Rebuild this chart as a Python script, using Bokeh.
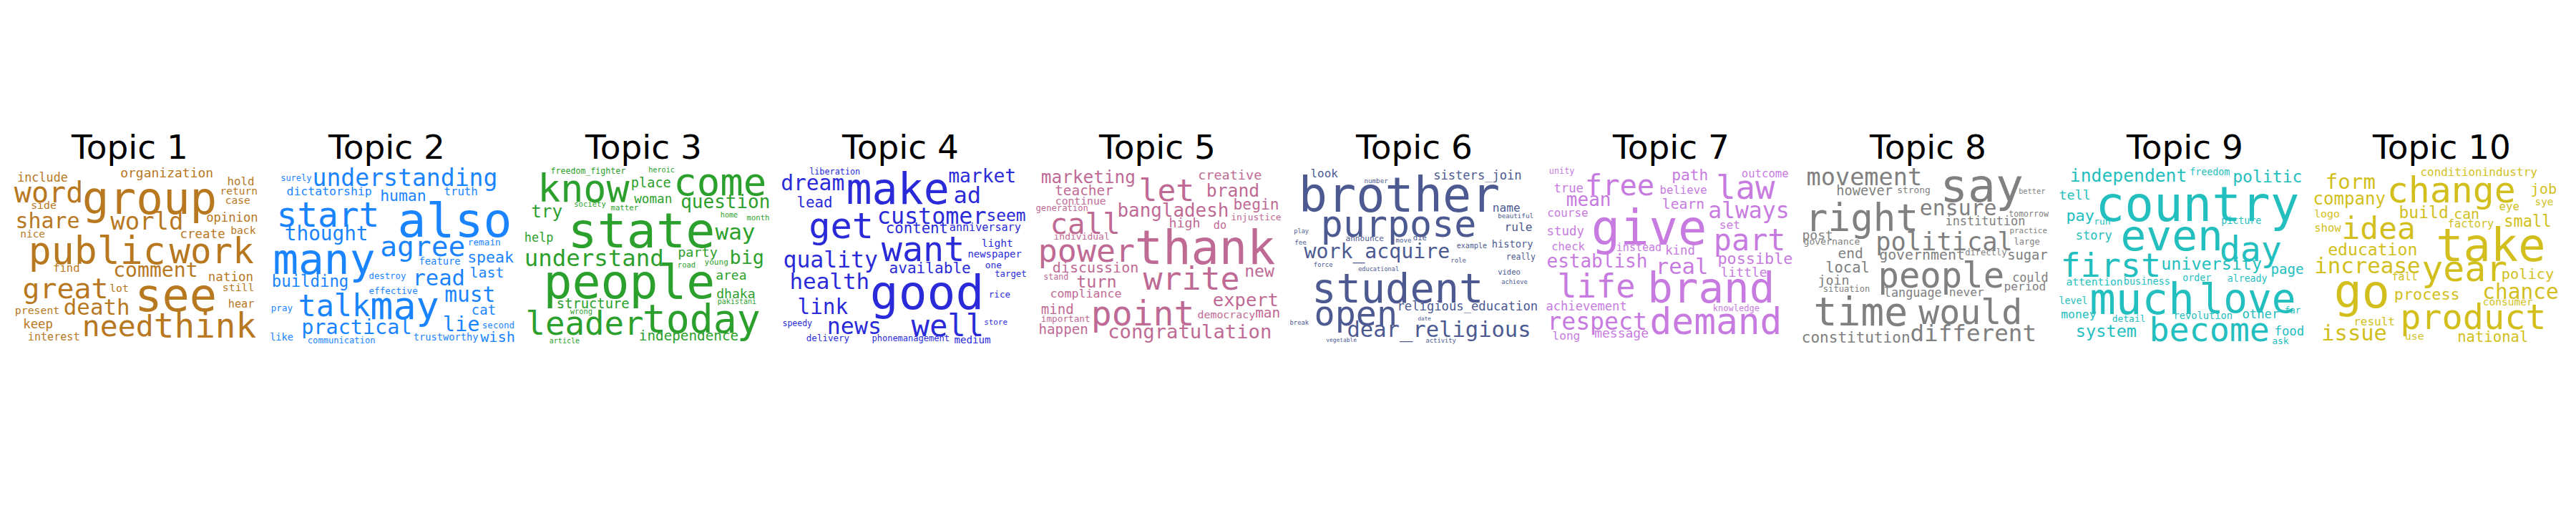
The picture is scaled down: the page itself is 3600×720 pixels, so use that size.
from bokeh.core.properties import value
from bokeh.embed import file_html
from bokeh.models import ColumnDataSource, Range1d
from bokeh.plotting import figure
from bokeh.resources import INLINE

topic_titles = ["Topic %d" % i for i in range(1, 11)]
topic_colors = ["#b8781f", "#1a84ff", "#2ca02c", "#2a2ad8", "#bf6a95",
                "#4c5a91", "#c77be0", "#808080", "#23bebe", "#d2bf1d"]

# words of each topic cloud, with the cloud layout:
# (word, left, right, middle) in 3x-zoomed pixels of the panel
t1 = [("include", 68, 280, 75), ("organization", 500, 890, 58), ("hold", 948, 1062, 92),
      ("word", 55, 345, 140), ("group", 340, 905, 165), ("return", 918, 1075, 133),
      ("case", 940, 1045, 173), ("side", 125, 232, 192), ("share", 60, 330, 258),
      ("world", 458, 765, 258), ("opinion", 860, 1078, 243), ("back", 962, 1068, 296),
      ("nice", 80, 185, 312), ("create", 750, 940, 312), ("public", 115, 690, 385),
      ("work", 705, 1060, 385), ("find", 218, 330, 457), ("comment", 470, 825, 465),
      ("nation", 868, 1058, 492), ("great", 90, 450, 540), ("lot", 455, 535, 540),
      ("still", 928, 1062, 537), ("see", 560, 905, 570), ("death", 262, 540, 620),
      ("present", 58, 245, 632), ("hear", 952, 1062, 607), ("keep", 92, 218, 692),
      ("need", 340, 640, 700), ("think", 640, 1070, 700), ("interest", 112, 330, 746)]
t2 = [("surely", 95, 225, 78), ("understanding", 228, 1005, 78), ("dictatorship", 120, 478, 135),
      ("human", 512, 705, 152), ("truth", 780, 922, 135), ("start", 78, 510, 235),
      ("also", 585, 1065, 255), ("thought", 112, 462, 312), ("agree", 512, 870, 365),
      ("remain", 880, 1018, 348), ("many", 62, 492, 420), ("speak", 878, 1072, 410),
      ("feature", 675, 850, 428), ("last", 888, 1032, 478), ("destroy", 465, 620, 490),
      ("building", 58, 380, 510), ("read", 648, 868, 498), ("effective", 465, 670, 553),
      ("must", 782, 995, 568), ("pray", 55, 145, 625), ("talk", 168, 470, 615),
      ("may", 470, 760, 615), ("cat", 895, 998, 632), ("practical", 182, 645, 705),
      ("lie", 775, 930, 690), ("second", 940, 1075, 695), ("like", 50, 148, 745),
      ("communication", 208, 492, 760), ("trustworthy", 652, 925, 745), ("wish", 932, 1078, 745)]
t3 = [("freedom_fighter", 150, 465, 48), ("heroic", 560, 670, 45), ("know", 95, 480, 125),
      ("come", 665, 1055, 95), ("place", 487, 655, 98), ("woman", 500, 660, 167),
      ("question", 695, 1070, 178), ("try", 68, 200, 218), ("society", 248, 382, 187),
      ("matter", 402, 518, 205), ("home", 862, 935, 235), ("month", 972, 1068, 243),
      ("state", 222, 840, 300), ("way", 840, 1008, 305), ("help", 40, 162, 327),
      ("understand", 40, 625, 415), ("party", 683, 850, 390), ("big", 900, 1045, 410),
      ("road", 682, 758, 443), ("young", 795, 895, 433), ("people", 120, 840, 515),
      ("area", 842, 972, 485), ("dhaka", 845, 1008, 565), ("structure", 175, 480, 605),
      ("pakistani", 850, 1012, 598), ("wrong", 232, 325, 638), ("leader", 45, 540, 690),
      ("today", 535, 1030, 670), ("independence", 520, 938, 740), ("article", 145, 272, 762)]
t4 = [("liberation", 158, 372, 52), ("make", 312, 745, 125), ("market", 740, 1025, 70),
      ("dream", 38, 305, 100), ("ad", 762, 878, 152), ("lead", 105, 255, 180),
      ("get", 155, 428, 280), ("customer", 442, 900, 238), ("seem", 900, 1065, 235),
      ("content", 478, 740, 290), ("anniversary", 745, 1045, 285), ("want", 460, 810, 375),
      ("light", 880, 1012, 350), ("quality", 48, 445, 420), ("newspaper", 822, 1048, 398),
      ("available", 492, 835, 455), ("one", 895, 965, 445), ("health", 75, 410, 510),
      ("target", 935, 1068, 482), ("good", 412, 890, 560), ("rice", 910, 1000, 568),
      ("link", 108, 320, 620), ("well", 585, 890, 700), ("news", 232, 460, 700),
      ("speedy", 45, 170, 688), ("store", 890, 988, 683), ("delivery", 145, 325, 750),
      ("phonemanagement", 420, 745, 750), ("medium", 765, 918, 758)]
t5 = [("marketing", 52, 448, 75), ("let", 462, 695, 130), ("creative", 710, 978, 65),
      ("teacher", 110, 355, 133), ("brand", 745, 968, 133), ("continue", 112, 325, 173),
      ("begin", 858, 1050, 190), ("generation", 30, 250, 205), ("call", 90, 385, 270),
      ("bangladesh", 372, 840, 215), ("injustice", 848, 1060, 242), ("high", 588, 720, 268),
      ("do", 775, 830, 277), ("individual", 105, 340, 325), ("power", 40, 445, 385),
      ("thank", 445, 1035, 370), ("discussion", 100, 462, 455), ("new", 905, 1030, 470),
      ("stand", 62, 168, 493), ("turn", 200, 370, 515), ("write", 480, 885, 500),
      ("compliance", 90, 390, 565), ("expert", 772, 1048, 590), ("mind", 52, 190, 630),
      ("point", 262, 695, 645), ("democracy", 708, 950, 652), ("man", 950, 1055, 645),
      ("important", 52, 258, 668), ("happen", 42, 250, 715), ("congratulation", 332, 1020, 722)]
t6 = [("look", 105, 220, 60), ("sisters_join", 620, 990, 67), ("number", 330, 430, 90),
      ("brother", 55, 900, 150), ("name", 868, 985, 203), ("beautiful", 890, 1040, 238),
      ("purpose", 148, 800, 270), ("rule", 918, 1035, 285), ("play", 35, 98, 300),
      ("announce", 252, 412, 333), ("die", 535, 592, 328), ("move", 462, 528, 340),
      ("fee", 38, 88, 348), ("history", 865, 1038, 355), ("example", 718, 845, 363),
      ("work_acquire", 78, 690, 388), ("really", 925, 1048, 408), ("role", 692, 758, 425),
      ("force", 118, 198, 443), ("educational", 305, 475, 461), ("video", 890, 985, 472),
      ("achieve", 905, 1015, 515), ("student", 110, 830, 540), ("open", 120, 470, 645),
      ("religious_education", 468, 1058, 617), ("date", 555, 610, 670), ("break", 18, 98, 684),
      ("dear_religious", 258, 1030, 715), ("vegetable", 170, 298, 758), ("activity", 588, 715, 760)]
t7 = [("unity", 28, 135, 50), ("free", 178, 470, 110), ("law", 728, 975, 120),
      ("path", 542, 695, 65), ("outcome", 835, 1032, 62), ("true", 48, 172, 120),
      ("believe", 492, 690, 128), ("mean", 100, 288, 170), ("learn", 502, 680, 188),
      ("always", 695, 1035, 215), ("course", 20, 192, 225), ("give", 205, 690, 290),
      ("set", 742, 830, 275), ("study", 18, 175, 300), ("part", 718, 1020, 340),
      ("check", 38, 178, 367), ("instead", 310, 500, 370), ("kind", 515, 640, 382),
      ("establish", 18, 440, 428), ("real", 475, 695, 450), ("possible", 735, 1050, 418),
      ("little", 748, 942, 475), ("life", 62, 390, 535), ("brand", 440, 975, 540),
      ("achievement", 15, 355, 615), ("knowledge", 715, 910, 626), ("respect", 20, 440, 680),
      ("demand", 450, 1005, 680), ("message", 218, 445, 730), ("long", 42, 158, 742)]
t8 = [("movement", 30, 515, 75), ("say", 590, 940, 110), ("however", 155, 392, 133),
      ("strong", 410, 550, 130), ("better", 920, 1032, 133), ("right", 25, 500, 245),
      ("ensure", 505, 828, 205), ("tomorrow", 878, 1045, 228), ("institution", 612, 948, 260),
      ("post", 12, 142, 317), ("practice", 882, 1040, 300), ("governance", 18, 255, 345),
      ("political", 320, 895, 345), ("large", 900, 1008, 345), ("end", 162, 268, 395),
      ("government", 335, 695, 402), ("directly", 695, 870, 392), ("sugar", 872, 1042, 403),
      ("local", 110, 295, 455), ("people", 330, 860, 490), ("join", 78, 210, 508),
      ("could", 893, 1045, 495), ("period", 858, 1035, 535), ("situation", 100, 297, 543),
      ("language", 355, 598, 558), ("never", 628, 775, 558), ("time", 60, 455, 640),
      ("would", 500, 935, 640), ("constitution", 10, 465, 747), ("different", 465, 995, 730)]
t9 = [("independent", 58, 548, 70), ("freedom", 560, 728, 55), ("politic", 740, 1032, 72),
      ("tell", 12, 145, 150), ("country", 165, 1020, 190), ("pay", 42, 160, 237),
      ("run", 158, 228, 260), ("picture", 692, 860, 258), ("story", 82, 235, 318),
      ("even", 270, 700, 320), ("day", 685, 945, 375), ("first", 18, 440, 445),
      ("university", 440, 862, 440), ("page", 900, 1038, 462), ("attention", 42, 280, 512),
      ("business", 283, 478, 512), ("order", 530, 650, 497), ("already", 718, 885, 500),
      ("much", 140, 580, 585), ("love", 600, 1005, 585), ("level", 12, 132, 593),
      ("far", 958, 1025, 633), ("money", 20, 168, 650), ("revolution", 492, 740, 655),
      ("other", 780, 935, 648), ("detail", 235, 375, 668), ("system", 82, 338, 720),
      ("become", 390, 895, 715), ("food", 915, 1040, 722), ("ask", 905, 975, 762)]
t10 = [("condition", 450, 708, 55), ("industry", 708, 940, 55), ("form", 52, 262, 95),
       ("change", 310, 850, 130), ("job", 912, 1022, 125), ("company", 0, 305, 165),
       ("sye", 930, 1008, 178), ("eye", 780, 865, 197), ("build", 360, 568, 222),
       ("can", 590, 698, 232), ("logo", 5, 112, 228), ("small", 800, 1000, 260),
       ("factory", 565, 758, 272), ("show", 5, 118, 290), ("idea", 120, 430, 290),
       ("take", 515, 975, 360), ("education", 62, 438, 380), ("increase", 5, 450, 445),
       ("year", 455, 815, 460), ("policy", 790, 1010, 482), ("fall", 330, 438, 492),
       ("go", 88, 322, 555), ("chance", 710, 1030, 555), ("process", 340, 615, 568),
       ("consumer", 712, 922, 597), ("product", 365, 978, 660), ("result", 170, 343, 682),
       ("issue", 35, 310, 730), ("use", 385, 465, 740), ("national", 605, 902, 745)]
topics = [t1, t2, t3, t4, t5, t6, t7, t8, t9, t10]

PANEL_W = 359
W, H = 3584, 704

p = figure(width=W, height=H, output_backend="svg", toolbar_location=None,
           x_range=Range1d(8, 8 + W), y_range=Range1d(8 + H, 8), min_border=0)
p.axis.visible = False
p.grid.visible = False
p.outline_line_color = None

for k, words in enumerate(topics):
    x0 = PANEL_W * k + 9
    src = ColumnDataSource(dict(
        text=[w[0] for w in words],
        x=[x0 + w[1] / 3 for w in words],
        y=[230 + w[3] / 3 for w in words],
        fs=["%.1fpx" % ((w[2] - w[1]) / 3 / (len(w[0]) * 0.602)) for w in words],
    ))
    p.text(x="x", y="y", text="text", source=src, text_font_size="fs",
           text_font=value("DejaVu Sans Mono"), text_color=topic_colors[k],
           text_align="left", text_baseline="middle")
    p.text(x=[189 + PANEL_W * k], y=[213], text=[topic_titles[k]],
           text_font=value("DejaVu Sans"), text_font_size="47px",
           text_color="black", text_align="center", text_baseline="middle")

open("out.html", "w").write(file_html(p, INLINE))
